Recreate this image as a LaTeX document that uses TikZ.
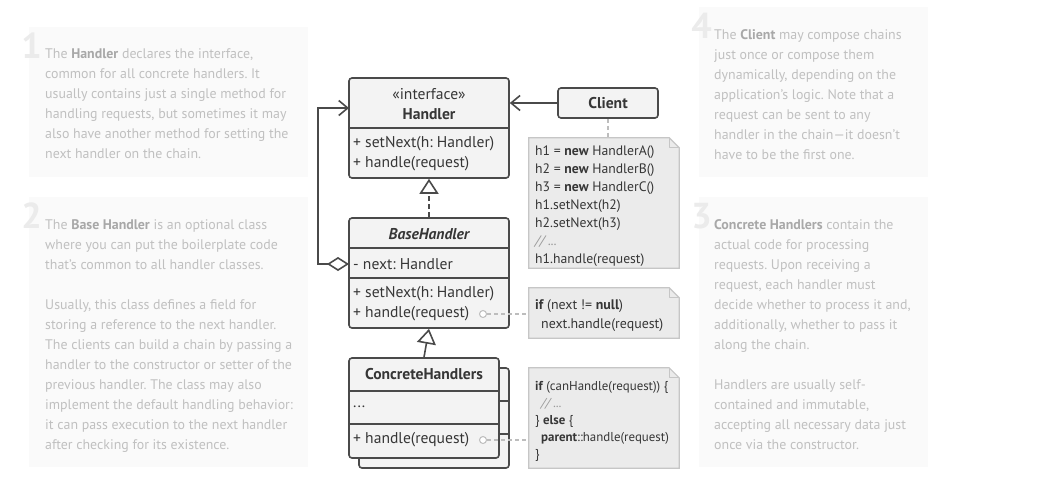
\documentclass[tikz,border=0pt]{standalone}
\usepackage{fontspec}
\setmainfont{PT Sans}
\usetikzlibrary{arrows.meta,calc}
\frenchspacing
\definecolor{panelbg}{HTML}{FAFAFA}
\definecolor{paneltext}{HTML}{C0C0C0}
\definecolor{panelbold}{HTML}{A8A8A8}
\definecolor{numcol}{HTML}{EBEBEB}
\definecolor{umlline}{HTML}{4A4A4A}
\definecolor{umlfill}{HTML}{F3F3F3}
\definecolor{umltext}{HTML}{363636}
\definecolor{notefill}{HTML}{EBEBEB}
\definecolor{noteline}{HTML}{C6C6C6}
\definecolor{linkcol}{HTML}{BDBDBD}
\definecolor{cmtcol}{HTML}{9A9A9A}
\newcommand\pbold[1]{{\bfseries\color{panelbold}#1}}
\newcommand\kw[1]{{\bfseries #1}}
\newcommand\drawmynote[1]{%
  \draw[noteline, line width=1.2pt, fill=notefill]
    (#1.north west) -- ($(#1.north east)+(-10pt,0pt)$) -- ($(#1.north east)+(0pt,-10pt)$)
    -- (#1.south east) -- (#1.south west) -- cycle;
  \draw[noteline, line width=1.2pt, line join=round]
    ($(#1.north east)+(-10pt,0pt)$) -- ($(#1.north east)+(-10pt,-10pt)$) -- ($(#1.north east)+(0pt,-10pt)$);
}
\begin{document}
\frenchspacing
\begin{tikzpicture}[x=1pt,y=-1pt,
  paneltxt/.style={anchor=north west, inner sep=0pt, align=left, text=paneltext, font=\fontsize{13.9}{20}\selectfont\frenchspacing},
  panelnum/.style={anchor=base east, inner sep=0pt, text=numcol, font=\fontsize{36}{36}\selectfont\bfseries},
  umlbox/.style={draw=umlline, fill=umlfill, line width=1.6pt, rounded corners=3pt, inner sep=0pt},
  umldiv/.style={draw=umlline, line width=1.6pt},
  umltxt/.style={inner sep=0pt, text=umltext, font=\fontsize{15.6}{18}\selectfont},
  umlbold/.style={umltxt, font=\fontsize{15.6}{18}\selectfont\bfseries},
  umlleft/.style={umltxt, anchor=west},
  notebox/.style={inner sep=0pt, draw=none, minimum width=150pt},
  notetxt/.style={anchor=north west, inner sep=0pt, align=left, text=umltext},
  conn/.style={draw=umlline, line width=1.6pt},
  notelink/.style={draw=linkcol, line width=1.2pt, dash pattern=on 4pt off 3pt},
  portcirc/.style={circle, draw=linkcol, fill=white, line width=1pt, inner sep=0pt, minimum size=7pt},
  openarrow/.style={-{Straight Barb[length=9pt,width=15pt,line width=1.6pt]}},
  trianglehead/.style={-{Triangle[open,length=15pt,width=19pt,line width=1.6pt,fill=white]}},
]
\useasboundingbox (0,0) rectangle (1046,499);
\fill[white] (0,0) rectangle (1046,499);

% ---------- panels ----------
\fill[panelbg] (29,27) rectangle (308,177);
\fill[panelbg] (29,197) rectangle (308,467);
\fill[panelbg] (699,7) rectangle (928,177);
\fill[panelbg] (699,197) rectangle (928,467);

\node[panelnum] (num1) at (42,58) {1};
\node[panelnum] (num2) at (42,228) {2};
\node[panelnum] (num4) at (712,38) {4};
\node[panelnum] (num3) at (712,228) {3};

\node[paneltxt] (txt1) at (45,48) {The \pbold{Handler} declares the interface,\\
common for all concrete handlers. It\\
usually contains just a single method for\\
handling requests, but sometimes it may\\
also have another method for setting the\\
next handler on the chain.};

\node[paneltxt] (txt2) at (45,219) {The \pbold{Base Handler} is an optional class\\
where you can put the boilerplate code\\
that’s common to all handler classes.\\[20pt]
Usually, this class defines a field for\\
storing a reference to the next handler.\\
The clients can build a chain by passing a\\
handler to the constructor or setter of the\\
previous handler. The class may also\\
implement the default handling behavior:\\
it can pass execution to the next handler\\
after checking for its existence.};

\node[paneltxt] (txt4) at (714,29) {The \pbold{Client} may compose chains\\
just once or compose them\\
dynamically, depending on the\\
application’s logic. Note that a\\
request can be sent to any\\
handler in the chain—it doesn’t\\
have to be the first one.};

\node[paneltxt] (txt3) at (714,219) {\pbold{Concrete Handlers} contain the\\
actual code for processing\\
requests. Upon receiving a\\
request, each handler must\\
decide whether to process it and,\\
additionally, whether to pass it\\
along the chain.\\[20pt]
Handlers are usually self-\\
contained and immutable,\\
accepting all necessary data just\\
once via the constructor.};

% ---------- Handler ----------
\node[umlbox, minimum width=160pt, minimum height=100pt] (handler) at (429,128) {};
\draw[umldiv] (349,128) -- (509,128);
\node[umltxt] (hstereo) at (429,94) {«interface»};
\node[umlbold] (hname) at (429,114) {Handler};
\node[umlleft] (hm1) at (353,144) {+ setNext(h: Handler)};
\node[umlleft] (hm2) at (353,164) {+ handle(request)};

% ---------- BaseHandler ----------
\node[umlbox, minimum width=160pt, minimum height=110pt] (base) at (429,273) {};
\draw[umldiv] (349,248) -- (509,248);
\draw[umldiv] (349,278) -- (509,278);
\node[umltxt, font=\fontsize{15.6}{18}\selectfont\bfseries\itshape] (bname) at (429,234) {BaseHandler};
\node[umlleft] (bf1) at (353,264) {- next: Handler};
\node[umlleft] (bm1) at (353,294) {+ setNext(h: Handler)};
\node[umlleft] (bm2) at (353,314) {+ handle(request)};

% ---------- ConcreteHandlers ----------
\node[umlbox, minimum width=150pt, minimum height=100pt] (chback) at (434,418) {};
\draw[umldiv] (359,401) -- (509,401);
\draw[umldiv] (359,434) -- (509,434);
\node[umlbox, minimum width=150pt, minimum height=100pt] (ch) at (424,408) {};
\draw[umldiv] (349,391) -- (499,391);
\draw[umldiv] (349,424) -- (499,424);
\node[umlbold] (cname) at (424,374) {ConcreteHandlers};
\node[umlleft] (cf1) at (353,407) {...};
\node[umlleft] (cm1) at (353,440) {+ handle(request)};

% ---------- Client ----------
\node[umlbox, minimum width=100pt, minimum height=30pt] (client) at (608,103) {};
\node[umlbold] (clname) at (608,103) {Client};

% ---------- notes ----------
\node[notebox, minimum height=130pt] (n1) at (604,203) {};
\drawmynote{n1}
\node[notetxt, font=\fontsize{13.7}{18}\selectfont] (n1t) at (535,146) {h1 = \kw{new} HandlerA()\\
h2 = \kw{new} HandlerB()\\
h3 = \kw{new} HandlerC()\\
h1.setNext(h2)\\
h2.setNext(h3)\\
{\itshape\color{cmtcol}// ...}\\
h1.handle(request)};

\node[notebox, minimum height=50pt] (n2) at (604,313) {};
\drawmynote{n2}
\node[notetxt, font=\fontsize{13.9}{18.5}\selectfont] (n2t) at (535,299.5) {\kw{if} (next != \kw{null})\\
\hspace*{6pt}next.handle(request)};

\node[notebox, minimum height=100pt] (n3) at (604,418) {};
\drawmynote{n3}
\node[notetxt, font=\fontsize{12.9}{17}\selectfont] (n3t) at (535,381.5) {\kw{if} (canHandle(request)) \{\\
\hspace*{6pt}{\itshape\color{cmtcol}// ...}\\
\} \kw{else} \{\\
\hspace*{6pt}\kw{parent}::handle(request)\\
\}};

% ---------- connectors ----------
\draw[conn, openarrow] (client.west) -- (client.west -| handler.east);
\coordinate (aggfrom) at (349,264);
\coordinate (aggto) at (349,108);
\draw[conn, {Diamond[length=22pt,width=14pt,line width=1.6pt,fill=white]}-{Straight Barb[length=9pt,width=15pt,line width=1.6pt]}]
  (aggfrom) -- ++(-31,0) |- (aggto);
\draw[conn, dash pattern=on 5pt off 3pt, trianglehead] (base.north) -- (handler.south);
\draw[conn, trianglehead] (ch.north) -- (base.south);

\draw[notelink] (client.south) -- (client.south |- n1.north);
\node[portcirc] (p1) at (483,314) {};
\draw[notelink] (p1.east) -- (p1.east -| n2.west);
\node[portcirc] (p2) at (483,440) {};
\draw[notelink] (p2.east) -- (p2.east -| n3.west);
\end{tikzpicture}
\end{document}
